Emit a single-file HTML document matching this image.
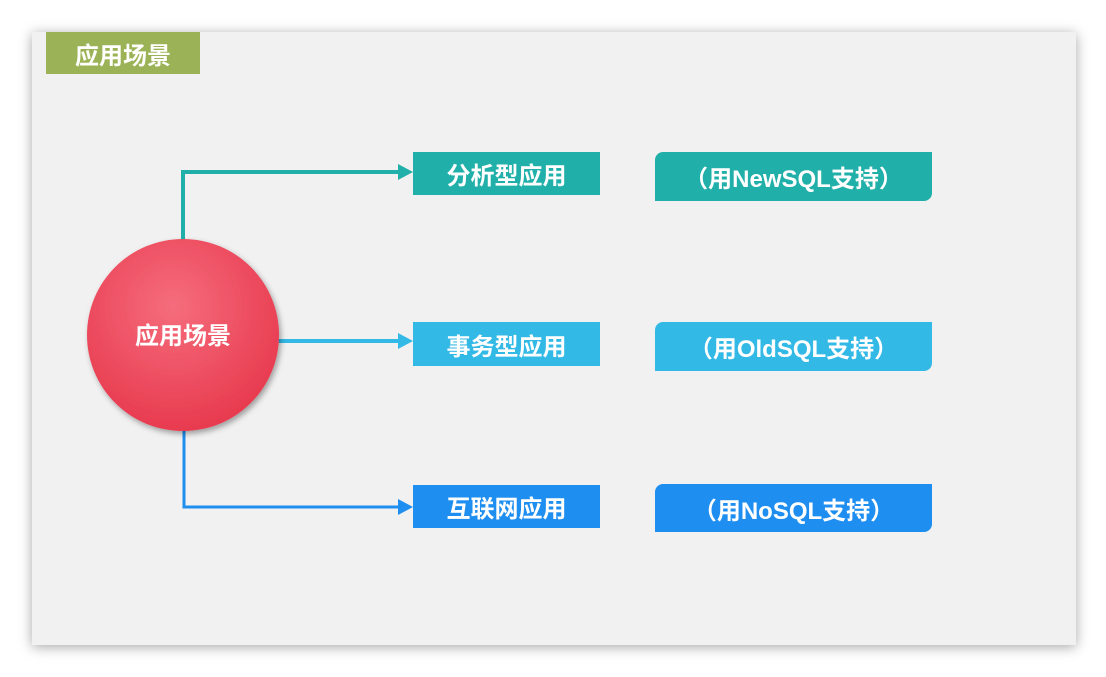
<!DOCTYPE html>
<html><head><meta charset="utf-8"><style>
body{margin:0;width:1106px;height:677px;background:#fff;position:relative;overflow:hidden;font-family:"Liberation Sans","Noto Sans CJK SC",sans-serif;}
.slide{position:absolute;left:32px;top:32px;width:1044px;height:613px;background:#f1f1f1;box-shadow:0 2px 12px rgba(0,0,0,.35);}
.b{position:absolute;color:#fff;font-weight:bold;display:flex;align-items:center;justify-content:center;font-size:24px;}
</style></head><body>
<div class="slide"></div>
<div class="b" style="left:46px;top:32px;width:154px;height:42px;background:#9bb356;">应用场景</div>
<svg style="position:absolute;left:0;top:0" width="1106" height="677">
<defs><radialGradient id="g" cx="45%" cy="35%" r="65%"><stop offset="0" stop-color="#f56d7c"/><stop offset="1" stop-color="#e83a4f"/></radialGradient>
<filter id="s"><feDropShadow dx="2" dy="3" stdDeviation="3" flood-opacity=".35"/></filter></defs>
<polyline points="183,240 183,172 400,172" fill="none" stroke="#21b0a9" stroke-width="4"/>
<polygon points="398,164 413,172 398,180" fill="#21b0a9"/>
<line x1="270" y1="341" x2="400" y2="341" stroke="#33b9e6" stroke-width="4"/>
<polygon points="398,333 413,341 398,349" fill="#33b9e6"/>
<polyline points="184,425 184,507 400,507" fill="none" stroke="#1e8ef0" stroke-width="3"/>
<polygon points="398,499 413,507 398,515" fill="#1e8ef0"/>
<circle cx="183" cy="335" r="96" fill="url(#g)" filter="url(#s)"/>
<text x="183" y="344" text-anchor="middle" fill="#fff" font-size="24" font-weight="bold" font-family="Liberation Sans, Noto Sans CJK SC, sans-serif">应用场景</text>
</svg>
<div class="b" style="left:413px;top:152px;width:187px;height:43px;background:#21b0a9;">分析型应用</div>
<div class="b" style="left:413px;top:322px;width:187px;height:44px;background:#33b9e6;">事务型应用</div>
<div class="b" style="left:413px;top:485px;width:187px;height:43px;background:#1e8ef0;">互联网应用</div>
<div class="b" style="left:655px;top:152px;width:277px;height:49px;background:#21b0a9;border-radius:8px 0 8px 0;">（用NewSQL支持）</div>
<div class="b" style="left:655px;top:322px;width:277px;height:49px;background:#33b9e6;border-radius:8px 0 8px 0;">（用OldSQL支持）</div>
<div class="b" style="left:655px;top:484px;width:277px;height:48px;background:#1e8ef0;border-radius:8px 0 8px 0;">（用NoSQL支持）</div>
</body></html>
